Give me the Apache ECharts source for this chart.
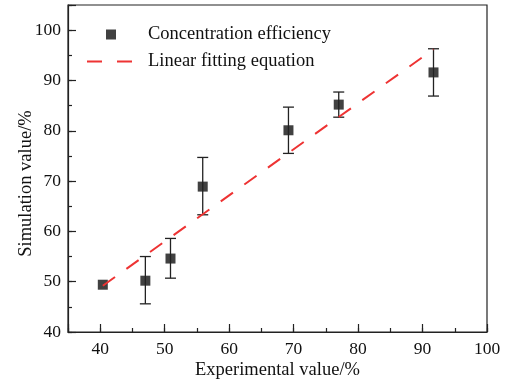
<!DOCTYPE html>
<html>
<head>
<meta charset="utf-8">
<script src="https://cdn.jsdelivr.net/npm/echarts@6/dist/echarts.min.js"></script>
<style>html,body{margin:0;padding:0;background:#fff}#c{width:505px;height:383px}</style>
</head>
<body>
<div id="c"></div>
<script>
// Data
const expValues = [40.4, 47.0, 50.9, 55.9, 69.2, 77.0, 91.7];
const simValues = [49.4, 50.2, 54.6, 68.9, 80.1, 85.2, 91.6];
const errLow    = [49.4, 45.6, 50.7, 63.3, 75.5, 82.7, 86.9];
const errHigh   = [49.4, 55.0, 58.6, 74.7, 84.7, 87.7, 96.3];
const fitX = [40.4, 91.7];
const fitY = [49.2, 96.2];
const seriesNames = ['Concentration efficiency', 'Linear fitting equation'];
const xName = 'Experimental value/%';
const yName = 'Simulation value/%';

const FONT = '"Liberation Serif", "Times New Roman", serif';
const AX = '#222';
const RED = '#ee3333';

const scatterData = expValues.map((x, i) => [x, simValues[i]]);
const errData = expValues.map((x, i) => [x, errLow[i], errHigh[i]]);
const fitData = fitX.map((x, i) => [x, fitY[i]]);

const chart = echarts.init(document.getElementById('c'), null, {renderer: 'canvas'});
const labelFmt = v => (v % 10 === 0 ? String(v) : '');

chart.setOption({
  animation: false,
  backgroundColor: '#fff',
  grid: {left: 68, right: 18, top: 5, bottom: 51, containLabel: false, outerBoundsMode: 'none',
         show: true, borderColor: AX, borderWidth: 1.2, backgroundColor: 'transparent'},
  legend: [
    {data: [{name: seriesNames[0], icon: 'rect'}], left: 101, top: 20, itemWidth: 10, itemHeight: 10,
     textStyle: {fontFamily: FONT, fontSize: 18.5, color: '#111', padding: [0, 0, 0, 27]}},
    {data: [{name: seriesNames[1], icon: 'path://M0,0h15v2h-15z M30,0h15v2h-15z', itemStyle: {color: RED}}],
     left: 82, top: 47, itemWidth: 45, itemHeight: 2,
     textStyle: {fontFamily: FONT, fontSize: 18.5, color: '#111', padding: [0, 0, 0, 11]}}
  ],
  xAxis: [
    {type: 'value', min: 35, max: 100, splitNumber: 6, position: 'bottom',
     name: xName, nameLocation: 'middle', nameGap: 29, nameMoveOverlap: false,
     nameTextStyle: {fontFamily: FONT, fontSize: 18.5, color: '#111'},
     axisLine: {lineStyle: {color: AX, width: 1.2}},
     axisTick: {inside: true, length: 8, lineStyle: {color: AX, width: 1.2}},
     axisLabel: {formatter: labelFmt, fontFamily: FONT, fontSize: 17.5, color: '#111', margin: 8},
     splitLine: {show: false}},
    {type: 'value', min: 35, max: 100, interval: 5, position: 'bottom',
     axisLine: {show: false},
     axisTick: {inside: true, length: 4, lineStyle: {color: AX, width: 1.2}},
     axisLabel: {show: false}, splitLine: {show: false}}
  ],
  yAxis: [
    {type: 'value', min: 40, max: 105, interval: 10, position: 'left',
     name: yName, nameLocation: 'middle', nameGap: 32, nameMoveOverlap: false,
     nameTextStyle: {fontFamily: FONT, fontSize: 18.5, color: '#111', padding: [0, 30, 0, 0]},
     axisLine: {show: true, lineStyle: {color: AX, width: 1.2}},
     axisTick: {show: true, inside: true, length: 8, lineStyle: {color: AX, width: 1.2}},
     axisLabel: {formatter: labelFmt, fontFamily: FONT, fontSize: 17.5, color: '#111', margin: 7},
     splitLine: {show: false}},
    {type: 'value', min: 40, max: 105, interval: 5, position: 'left',
     axisLine: {show: false},
     axisTick: {show: true, inside: true, length: 4, lineStyle: {color: AX, width: 1.2}},
     axisLabel: {show: false}, splitLine: {show: false}}
  ],
  series: [
    {name: seriesNames[0], type: 'scatter', data: scatterData, symbol: 'rect', symbolSize: 10,
     itemStyle: {color: '#111'}, z: 3},
    {name: 'err', type: 'custom', data: errData, z: 4,
     renderItem: (params, api) => {
       const x = api.value(0), lo = api.value(1), hi = api.value(2);
       if (hi - lo < 0.01) return null;
       const pl = api.coord([x, lo]), ph = api.coord([x, hi]);
       const hw = 5.5;
       const st = {stroke: '#222', lineWidth: 1.3};
       return {type: 'group', children: [
         {type: 'line', shape: {x1: pl[0], y1: pl[1], x2: ph[0], y2: ph[1]}, style: st},
         {type: 'line', shape: {x1: pl[0] - hw, y1: pl[1], x2: pl[0] + hw, y2: pl[1]}, style: st},
         {type: 'line', shape: {x1: ph[0] - hw, y1: ph[1], x2: ph[0] + hw, y2: ph[1]}, style: st}
       ]};
     }},
    {name: seriesNames[1], type: 'line', data: fitData, symbol: 'none', showSymbol: false, z: 5,
     lineStyle: {color: RED, width: 2, type: [15, 14]}, itemStyle: {color: RED}}
  ]
});
</script>
</body>
</html>
